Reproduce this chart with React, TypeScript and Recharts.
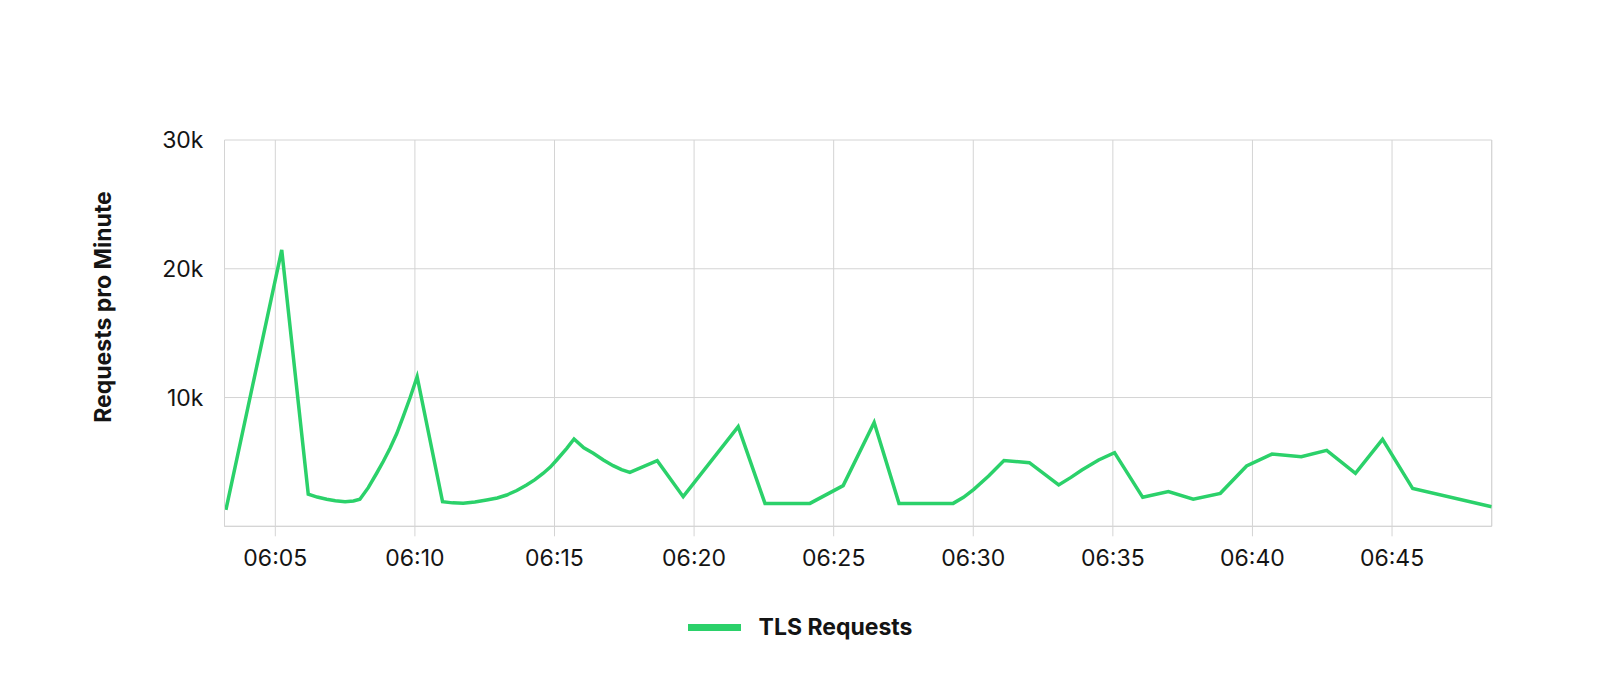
import { LineChart, Line, XAxis, YAxis, CartesianGrid, ReferenceLine, Legend, Label } from "recharts"

// minutes after 06:00
const minutes = [
    3.23, 5.23, 6.18, 6.5, 6.84, 7.15, 7.5, 7.8, 8.03, 8.33, 8.63, 8.87, 9.11, 9.35, 9.58, 9.83, 10.08,
    10.99, 11.35, 11.73, 12.15, 12.57, 12.95, 13.29, 13.65, 14.0, 14.3, 14.6, 14.85, 15.08, 15.44, 15.7,
    16.05, 16.39, 16.75, 17.1, 17.4, 17.7, 18.68, 19.61, 21.58, 22.54, 24.15, 25.34, 26.45, 27.34,
    29.28, 29.65, 30.02, 30.55, 31.1, 32.01, 33.06, 33.5, 33.89, 34.49, 35.06, 36.07, 36.99, 37.88,
    38.85, 39.79, 40.7, 41.75, 42.66, 43.69, 44.66, 45.74, 48.57,
]

const tlsRequests = [
    1270, 21460, 2500, 2270, 2100, 1980, 1910, 1970, 2100, 3000, 4120, 5050, 6060, 7200, 8510, 10000, 11620,
    1910, 1820, 1790, 1880, 2040, 2200, 2430, 2780, 3210, 3620, 4120, 4600, 5150, 6060, 6780,
    6100, 5670, 5150, 4710, 4400, 4190, 5100, 2300, 7740, 1780, 1780, 3160, 8070, 1780,
    1780, 2250, 2870, 3900, 5100, 4940, 3210, 3800, 4370, 5150, 5720, 2250, 2690, 2100,
    2560, 4680, 5610, 5400, 5900, 4120, 6750, 2930, 1520,
]

const tickMinutes = [5, 10, 15, 20, 25, 30, 35, 40, 45]
const tickLabels = ["06:05", "06:10", "06:15", "06:20", "06:25", "06:30", "06:35", "06:40", "06:45"]
const yTicks = [10000, 20000, 30000]
const yTickLabels = ["10k", "20k", "30k"]

const xMin = 3.18
const xMax = 48.57
const green = "#2bd16a"
const gridColor = "#d4d4d4"
const textColor = "#141414"
const font = "Inter, 'Noto Sans', sans-serif"

const data = minutes.map((minute, i) => ({ minute, requests: tlsRequests[i] }))

function LegendContent() {
    return (
        <div style={{ display: "flex", alignItems: "center", justifyContent: "center", fontFamily: font }}>
            <div style={{ width: 53, height: 7, background: green, marginRight: 18 }} />
            <span style={{ fontSize: 23, fontWeight: 700, color: textColor, lineHeight: "30px" }}>TLS Requests</span>
        </div>
    )
}

export default function App() {
    return (
        <div style={{ position: "absolute", left: 0, top: 0, width: 1600, height: 687, background: "#fff", fontFamily: font }}>
            <LineChart
                width={1600}
                height={687}
                data={data}
                margin={{ top: 140, right: 108.3, bottom: 0, left: 0 }}
            >
                <CartesianGrid stroke={gridColor} strokeWidth={1} />
                <XAxis
                    type="number"
                    dataKey="minute"
                    domain={[xMin, xMax]}
                    allowDataOverflow
                    ticks={tickMinutes}
                    tickFormatter={(v: number) => tickLabels[tickMinutes.indexOf(v)]}
                    height={160.7}
                    tickSize={10}
                    tickMargin={13}
                    stroke={gridColor}
                    tick={{ fill: textColor, fontSize: 23, fontFamily: font }}
                />
                <YAxis
                    type="number"
                    domain={[0, 30000]}
                    ticks={yTicks}
                    tickFormatter={(v: number) => yTickLabels[yTicks.indexOf(v)]}
                    width={224.5}
                    tickLine={false}
                    tickSize={0}
                    tickMargin={21}
                    stroke={gridColor}
                    tick={{ fill: textColor, fontSize: 23, fontFamily: font }}
                >
                    <Label
                        content={() => (
                            <text
                                x={103}
                                y={307}
                                transform="rotate(-90 103 307)"
                                textAnchor="middle"
                                dominantBaseline="central"
                                fill={textColor}
                                fontSize={23}
                                fontWeight={700}
                                fontFamily={font}
                            >
                                Requests pro Minute
                            </text>
                        )}
                    />
                </YAxis>
                <ReferenceLine x={xMax} stroke={gridColor} />
                <Line
                    type="linear"
                    dataKey="requests"
                    name="TLS Requests"
                    stroke={green}
                    strokeWidth={3.5}
                    dot={false}
                    activeDot={false}
                    isAnimationActive={false}
                />
                <Legend
                    verticalAlign="middle"
                    align="center"
                    layout="horizontal"
                    wrapperStyle={{ top: 612, left: 0, width: 1600 }}
                    content={() => <LegendContent />}
                />
            </LineChart>
        </div>
    )
}
